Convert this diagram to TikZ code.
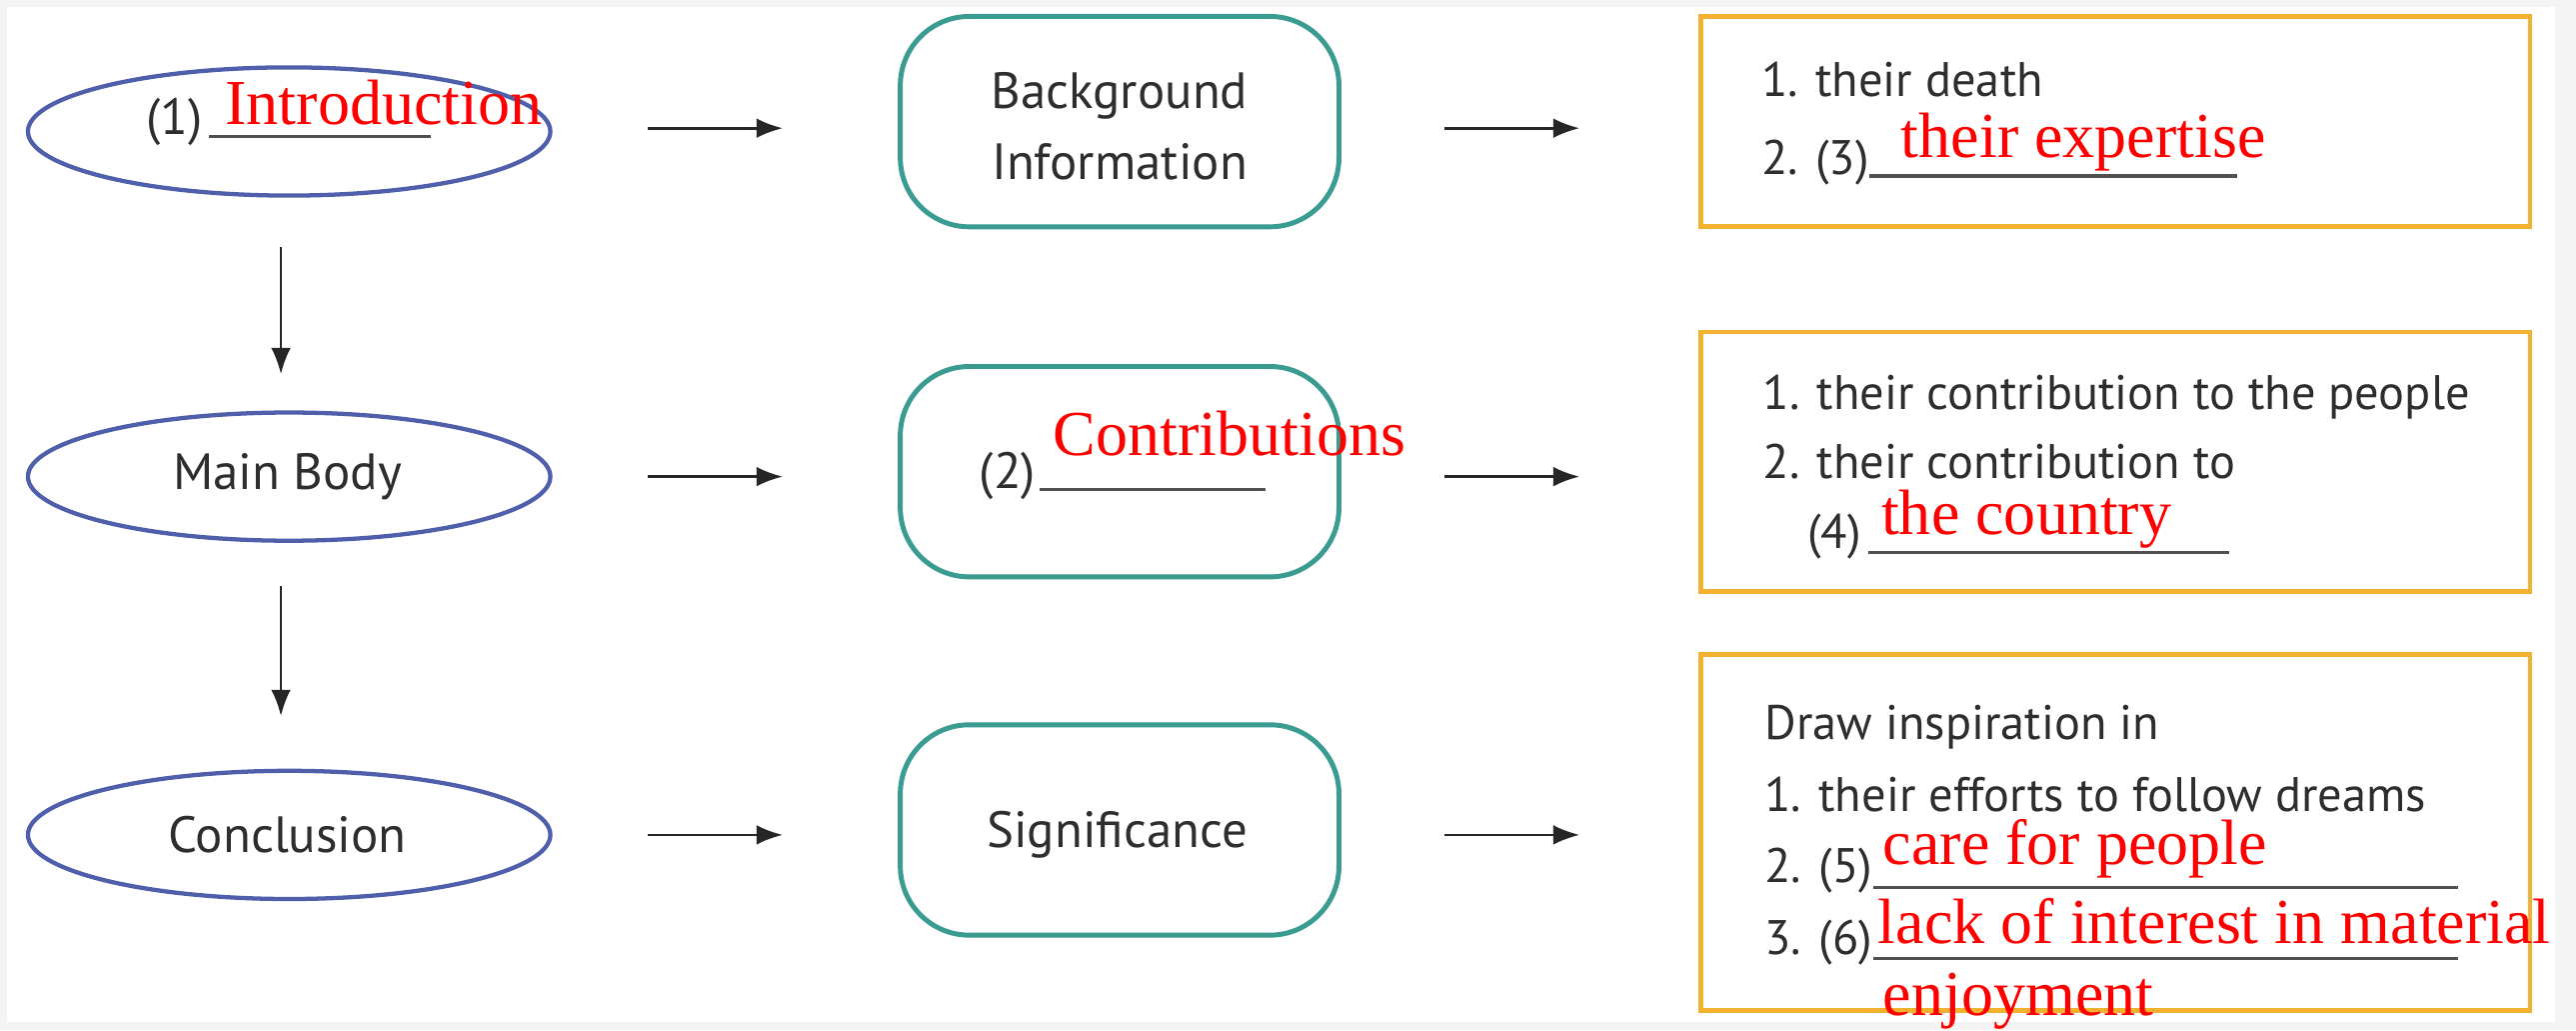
\documentclass[tikz,border=0pt]{standalone}
\usepackage{fontspec}
\usetikzlibrary{shapes.geometric,arrows.meta,calc}
\newfontfamily\bodyfont{PT Sans}
\newfontfamily\redfont{Liberation Serif}
\definecolor{ellblue}{HTML}{4F5FAA}
\definecolor{tealc}{HTML}{3A9B90}
\definecolor{orangec}{HTML}{F2B12E}
\definecolor{txt}{HTML}{2E2E2E}
\definecolor{uline}{HTML}{505050}
\definecolor{bggray}{HTML}{F4F4F4}
\begin{document}
\begin{tikzpicture}[x=1pt,y=-1pt,
  ell/.style={ellipse,draw=ellblue,line width=2.6pt,minimum width=318pt,minimum height=78pt,inner sep=0pt},
  rbox/.style={draw=tealc,line width=3pt,rounded corners=42pt,minimum width=267pt,minimum height=128pt,inner sep=0pt},
  obox/.style={draw=orangec,line width=3pt,minimum width=505pt,inner sep=0pt},
  lbl/.style={font=\bodyfont\fontsize{31}{43}\selectfont,text=txt,inner sep=0pt},
  blbl/.style={font=\bodyfont\fontsize{29.5}{43}\selectfont,text=txt,inner sep=0pt},
  ans/.style={font=\redfont\fontsize{39}{42}\selectfont,text=red,inner sep=0pt},
  conn/.style={line width=1.7pt,draw=black!85,-{Latex[length=16pt,width=12pt]}},
  blank/.style={line width=2pt,draw=uline}
]
\useasboundingbox (0,0) rectangle (1568,627);
\fill[bggray] (0,0) rectangle (1568,627);
\fill[white] (4,4) rectangle (1555,622);

% left column
\node[ell] (intro) at (176,80) {};
\node[ell] (body) at (176,290) {};
\node[ell] (concl) at (176,508) {};
% middle column
\node[rbox] (bg) at (681.5,74) {};
\node[rbox] (contr) at (681.5,287) {};
\node[rbox] (signif) at (681.5,505) {};
% right column
\node[obox,minimum height=128pt] (box1) at (1287.5,74) {};
\node[obox,minimum height=158pt] (box2) at (1287.5,281) {};
\node[obox,minimum height=217pt] (box3) at (1287.5,506.5) {};

% connectors
\draw[conn,shorten <=30pt,shorten >=22pt] ($(intro.south)+(-5,0)$) -- ($(body.north)+(-5,0)$);
\draw[conn,shorten <=26pt,shorten >=32pt] ($(body.south)+(-5,0)$) -- ($(concl.north)+(-5,0)$);
\draw[conn,shorten <=58pt,shorten >=70pt] ($(intro.east)+(0,-2)$) -- ($(intro.east -| bg.west)+(0,-2)$);
\draw[conn,shorten <=58pt,shorten >=70pt] (body.east) -- (body.east -| contr.west);
\draw[conn,shorten <=58pt,shorten >=70pt] (concl.east) -- (concl.east -| signif.west);
\draw[conn,shorten <=63pt,shorten >=72pt] ($(bg.east)+(0,4)$) -- ($(bg.east -| box1.west)+(0,4)$);
\draw[conn,shorten <=63pt,shorten >=72pt] ($(contr.east)+(0,3)$) -- ($(contr.east -| box2.west)+(0,3)$);
\draw[conn,shorten <=63pt,shorten >=72pt] ($(signif.east)+(0,3)$) -- ($(signif.east -| box3.west)+(0,3)$);

% black labels
\node[lbl,anchor=base west] (t1) at (89,82) {(1)};
\draw[blank] (127,83) -- (262,83);
\node[lbl] (tbody) at (175,290) {Main Body};
\node[lbl] (tconcl) at (175,508) {Conclusion};
\node[lbl,align=center] (tbg) at (681.5,77) {Background\\Information};
\node[lbl,anchor=base west] (t2) at (596,297) {(2)};
\draw[blank] (633,298) -- (770,298);
\node[lbl] (tsig) at (680,508) {Significance};

\node[blbl,anchor=base west] (b1a) at (1072,59) {1. their death};
\node[blbl,anchor=base west] (b1b) at (1072,106) {2. (3)};
\draw[blank] (1138,107) -- (1362,107);

\node[blbl,anchor=base west] (b2a) at (1073,249) {1. their contribution to the people};
\node[blbl,anchor=base west] (b2b) at (1073,291) {2. their contribution to};
\node[blbl,anchor=base west] (b2c) at (1100,334) {(4)};
\draw[blank] (1137,336) -- (1357,336);

\node[blbl,anchor=base west] (b3a) at (1074,450) {Draw inspiration in};
\node[blbl,anchor=base west] (b3b) at (1074,494) {1. their efforts to follow dreams};
\node[blbl,anchor=base west] (b3c) at (1074,537) {2. (5)};
\draw[blank] (1140,540) -- (1496,540);
\node[blbl,anchor=base west] (b3d) at (1074,581) {3. (6)};
\draw[blank] (1140,583) -- (1496,583);

% red answers
\node[ans,anchor=base west] (a1) at (137,76) {Introduction};
\node[ans,anchor=base west] (a2) at (641,277) {Contributions};
\node[ans,anchor=base west] (a3) at (1157,96) {their expertise};
\node[ans,anchor=base west] (a4) at (1145,325) {the country};
\node[ans,anchor=base west] (a5) at (1146,526) {care for people};
\node[ans,anchor=base west] (a6) at (1143,574) {lack of interest in material};
\node[ans,anchor=base west] (a6b) at (1146,618) {enjoyment};
\end{tikzpicture}
\end{document}
